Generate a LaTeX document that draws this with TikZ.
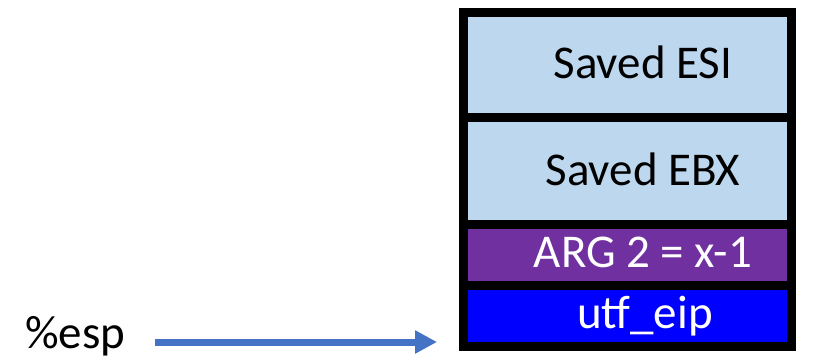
\documentclass[tikz,border=0pt]{standalone}
\usepackage{fontspec}
\setmainfont{Carlito}
\usetikzlibrary{arrows.meta}

\definecolor{savedfill}{HTML}{BDD7EE}
\definecolor{argfill}{HTML}{7030A0}
\definecolor{eipfill}{HTML}{0000FF}
\definecolor{ptrblue}{HTML}{4472C4}

\tikzset{
	slot/.style={draw=black, line width=9pt, minimum width=328pt, inner sep=0pt, anchor=north west},
	slottext/.style={font=\fontsize{47}{50}\selectfont, anchor=base, inner sep=0pt},
	ptr/.style={draw=ptrblue, line width=7pt, -{Triangle[length=22pt,width=22pt]}},
}

\begin{document}
\begin{tikzpicture}[x=1pt,y=-1pt]
		\useasboundingbox (0,0) rectangle (828,362);
		% stack slots, top to bottom
		\node[slot, fill=savedfill, minimum height=105pt] (esi) at (458.5,8) {};
		\node[slot, fill=savedfill, minimum height=107pt] (ebx) at (458.5,113) {};
		\node[slot, fill=argfill,   minimum height=61pt]  (arg) at (458.5,220) {};
		\node[slot, fill=eipfill,   minimum height=61pt]  (eip) at (458.5,281) {};
		
		\node[slottext] (esitxt) at (643,78)  {Saved ESI};
		\node[slottext] (ebxtxt) at (643,185) {Saved EBX};
		\node[slottext, text=white] (argtxt) at (643,267) {ARG 2 = x-1};
		\node[slottext, text=white] (eiptxt) at (645,328) {utf\_eip};
		
		% stack pointer
		\node[slottext, anchor=base west] (esp) at (25,348) {\%esp};
		\coordinate (esptip) at (437,342);
		\draw[ptr, shorten <=30pt] (esp.east |- esptip) -- (esptip);
\end{tikzpicture}
\end{document}
